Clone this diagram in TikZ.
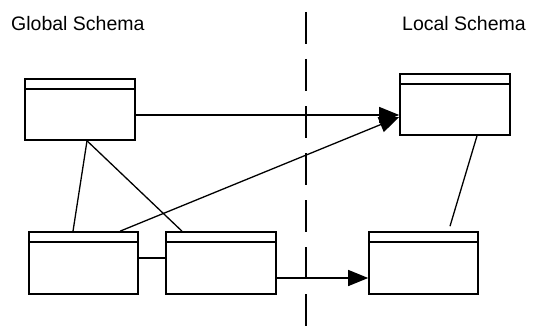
\documentclass[tikz,border=0pt]{standalone}
\usepackage{fontspec}
\setmainfont{Liberation Sans}
\usetikzlibrary{arrows.meta}
\tikzset{
  entity/.style={draw, line width=1.6pt, inner sep=0pt, minimum width=110pt, minimum height=61pt,
    path picture={\draw[line width=1.4pt] ([yshift=-10pt]path picture bounding box.north west) -- ([yshift=-10pt]path picture bounding box.north east);}},
  conn/.style={line width=1.3pt},
  arr/.style={line width=1.3pt, -{Triangle[length=20pt,width=16pt]}},
  title/.style={inner sep=0pt, anchor=base west, font=\fontsize{19.5pt}{22pt}\selectfont},
  divider/.style={line width=1.2pt, dash pattern=on 32pt off 15pt}
}
\begin{document}
\begin{tikzpicture}[x=1pt,y=-1pt]
\useasboundingbox (0,0) rectangle (534,326);
\node[title] (gs) at (11,30.5) {Global Schema};
\node[title] (ls) at (402,30.5) {Local Schema};
\coordinate (dtop) at (306,12);
\coordinate (dbot) at (306,330);
\draw[divider] (dtop) -- (dbot);
\node[entity] (A) at (80,109.5) {};
\node[entity] (L1) at (455,104.5) {};
\node[entity, minimum width=109pt, minimum height=62pt] (B1) at (83.5,263) {};
\node[entity, minimum height=62pt] (B2) at (221,263) {};
\node[entity, minimum width=109pt, minimum height=62pt] (L2) at (423.5,263) {};
\draw[arr] ([yshift=-5.5pt]A.east) -- ([yshift=-10.5pt]L1.west);
\draw[conn] ([xshift=7pt]A.south) -- ([xshift=-10.5pt]B1.north);
\draw[conn] ([xshift=7pt]A.south) -- ([xshift=-39pt]B2.north);
\draw[arr] ([xshift=36.5pt]B1.north) -- ([yshift=-12.5pt]L1.west);
\draw[conn] ([yshift=5pt]B1.east) -- ([yshift=5pt]B2.west);
\draw[arr] ([yshift=-15pt]B2.east) -- ([yshift=-15pt]L2.west);
\draw[conn] ([xshift=22pt]L1.south) -- ([shift={(26.5pt,5pt)}]L2.north);
\end{tikzpicture}
\end{document}
